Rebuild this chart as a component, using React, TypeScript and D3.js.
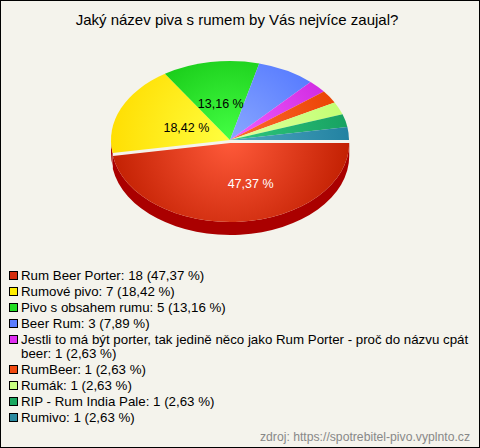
import React, { useMemo } from "react";
import * as d3 from "d3";

const title = "Jaký název piva s rumem by Vás nejvíce zaujal?";
const categories = [
  "Rum Beer Porter",
  "Rumové pivo",
  "Pivo s obsahem rumu",
  "Beer Rum",
  "Jestli to má být porter, tak jedině něco jako Rum Porter - proč do názvu cpát beer",
  "RumBeer",
  "Rumák",
  "RIP - Rum India Pale",
  "Rumivo",
];
const values = [18, 7, 5, 3, 1, 1, 1, 1, 1];
const colors = ["#d42c0c", "#ffee00", "#22dd22", "#5a7dff", "#dd2ef0", "#f04a10", "#c8ff80", "#1aa860", "#2a8aa0"];
const lightColors = ["#ff5a3a", "#ffff40", "#44ff44", "#8aa8ff", "#f060ff", "#ff6a30", "#e0ffa0", "#30c880", "#50a8c0"];
const darkColors = ["#c01e00", "#ffdd00", "#0cbc0c", "#4a70ff", "#cc22dd", "#e84000", "#c0ff70", "#16a060", "#2080a0"];
const sideColor = "#aa0000";
const labelShown = [true, true, true, false, false, false, false, false, false];
const sourceText = "zdroj: https://spotrebitel-pivo.vyplnto.cz";

const W = 480, H = 448;
const cx = 230, cy = 140, rx = 119, ry = 79, depth = 13;
const FONT = "Liberation Sans, Arial, sans-serif";
const LEGEND_FS = 13.3;

function fmt(v: number) {
  return v.toFixed(2).replace(".", ",");
}

function wrapText(text: string, maxW: number, font: string): string[] {
  const c = document.createElement("canvas").getContext("2d")!;
  c.font = font;
  const words = text.split(" ");
  const lines: string[] = [];
  let cur = "";
  for (const w of words) {
    const t = cur ? cur + " " + w : w;
    if (c.measureText(t).width > maxW && cur) {
      lines.push(cur);
      cur = w;
    } else cur = t;
  }
  if (cur) lines.push(cur);
  return lines;
}

export default function App() {
  const total = d3.sum(values);
  const arcs = d3.pie<number>().sort(null).startAngle(0).endAngle(2 * Math.PI)(values);

  const pt = (a: number, ox = 0, oy = 0) => [cx + ox + rx * Math.cos(a), cy + oy + ry * Math.sin(a)];

  const legend = useMemo(() => {
    let y = 280;
    return categories.map((c, i) => {
      const pct = (values[i] / total) * 100;
      const txt = `${c}: ${values[i]} (${fmt(pct)} %)`;
      const lines = wrapText(txt, 456, `${LEGEND_FS}px ${FONT}`);
      const item = { lines, y, i };
      y += 16 + (lines.length - 1) * 14;
      return item;
    });
  }, []);

  return (
    <svg width={W} height={H} style={{ position: "absolute", left: 0, top: 0 }} fontFamily={FONT}>
      <defs>
        {colors.map((c, i) => (
          <radialGradient key={i} id={`g${i}`} gradientUnits="userSpaceOnUse" cx={cx} cy={cy} r={rx * 1.05} fx={cx} fy={cy}>
            <stop offset="0%" stopColor={lightColors[i]} />
            <stop offset="100%" stopColor={darkColors[i]} />
          </radialGradient>
        ))}
      </defs>
      <rect x={0.5} y={0.5} width={W - 1} height={H - 1} fill="#f4f3ec" stroke="#000" />
      <text x={237} y={25} textAnchor="middle" fontSize={15} fill="#000">{title}</text>
      {arcs.map((a, i) => {
        const mid = (a.startAngle + a.endAngle) / 2;
        const ox = i === 0 ? 3 * Math.cos(mid) : 0;
        const oy = i === 0 ? 3 * Math.sin(mid) : 0;
        const s = pt(a.startAngle, ox, oy);
        const e = pt(a.endAngle, ox, oy);
        const large = a.endAngle - a.startAngle > Math.PI ? 1 : 0;
        const top = `M${cx + ox},${cy + oy}L${s[0]},${s[1]}A${rx},${ry} 0 ${large} 1 ${e[0]},${e[1]}Z`;
        let side: string | null = null;
        const a0 = Math.max(a.startAngle, 0), a1 = Math.min(a.endAngle, Math.PI);
        if (a1 > a0) {
          const p0 = pt(a0, ox, oy), p1 = pt(a1, ox, oy);
          side = `M${p0[0]},${p0[1]}A${rx},${ry} 0 0 1 ${p1[0]},${p1[1]}L${p1[0]},${p1[1] + depth}A${rx},${ry} 0 0 0 ${p0[0]},${p0[1] + depth}Z`;
        }
        return (
          <g key={i}>
            {side && <path d={side} fill={sideColor} />}
            <path d={top} fill={`url(#g${i})`} />
          </g>
        );
      })}
      {arcs.map((a, i) => {
        if (!labelShown[i]) return null;
        const mid = (a.startAngle + a.endAngle) / 2;
        const k = i === 0 ? 0.58 : i === 1 ? 0.4 : 0.47;
        const adj = i === 0 ? -0.22 : 0;
        const x = cx + rx * k * Math.cos(mid + adj);
        const y = cy + ry * k * Math.sin(mid + adj);
        return (
          <text key={i} x={x} y={y + 4.5} textAnchor="middle" fontSize={12.5} fill={i === 0 ? "#fff" : "#000"}>
            {fmt((values[i] / total) * 100)} %
          </text>
        );
      })}
      {legend.map(({ lines, y, i }) => (
        <g key={i}>
          <rect x={9.5} y={y - 8.5} width={8} height={8} fill={colors[i]} stroke="#000" />
          <text x={21} y={y} fontSize={LEGEND_FS} fill="#000">
            {lines.map((l, j) => (
              <tspan key={j} x={21} dy={j === 0 ? 0 : 14}>{l}</tspan>
            ))}
          </text>
        </g>
      ))}
      <text x={470} y={441} textAnchor="end" fontSize={12.2} fill="#888">{sourceText}</text>
    </svg>
  );
}
